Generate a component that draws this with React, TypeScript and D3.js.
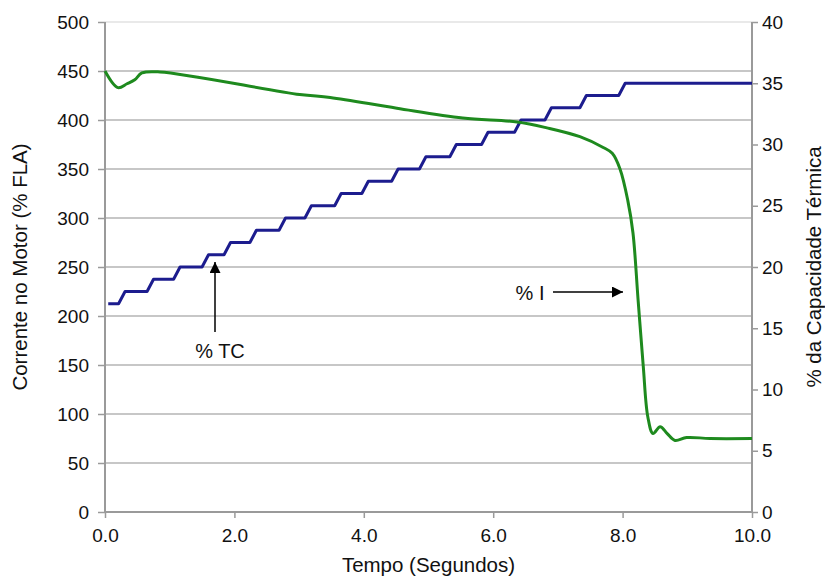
import React, { useRef, useEffect } from "react";
import * as d3 from "d3";

// % I (corrente, eixo esquerdo)
const currentTimes = [0.0, 0.2, 0.34, 0.46, 0.57, 0.85, 3.01, 3.48, 4.51, 5.53, 6.37, 6.83, 7.34, 7.7, 7.84, 7.96, 8.08, 8.16, 8.24, 8.32, 8.39, 8.47, 8.58, 8.69, 8.81, 8.99, 9.35, 10.0];
const currentValues = [450, 433, 437, 441, 448, 449, 426, 423, 412, 402, 398, 392, 383, 372, 366, 350, 318, 285, 216, 148, 97, 80, 87, 80, 73, 76, 75, 75];

// % TC (capacidade térmica, eixo direito) - degraus
const tcStepTimes = [0.05, 0.26, 0.7, 1.11, 1.55, 1.89, 2.29, 2.74, 3.14, 3.6, 4.02, 4.48, 4.91, 5.38, 5.87, 6.38, 6.85, 7.39, 7.99];
const tcLevels = [17, 18, 19, 20, 21, 22, 23, 24, 25, 26, 27, 28, 29, 30, 31, 32, 33, 34, 35];

const xTicks = [0, 2, 4, 6, 8, 10];
const leftTicks = [0, 50, 100, 150, 200, 250, 300, 350, 400, 450, 500];
const rightTicks = [0, 5, 10, 15, 20, 25, 30, 35, 40];

const width = 825;
const height = 577;
const margin = { top: 22, right: 73, bottom: 65, left: 105 };

const App = () => {
  const svgRef = useRef(null);

  useEffect(() => {
    const svg = d3.select(svgRef.current);
    svg.selectAll("*").remove();

    const x = d3.scaleLinear().domain([0, 10]).range([margin.left, width - margin.right]);
    const yLeft = d3.scaleLinear().domain([0, 500]).range([height - margin.bottom, margin.top]);
    const yRight = d3.scaleLinear().domain([0, 40]).range([height - margin.bottom, margin.top]);

    const font = "'Liberation Sans', Arial, sans-serif";
    const tickSize = "19px";
    const titleSize = "20.5px";
    const noteSize = "20px";

    // gridlines
    svg
      .append("g")
      .selectAll("line")
      .data(leftTicks.filter((d) => d > 0))
      .join("line")
      .attr("x1", x(0))
      .attr("x2", x(10))
      .attr("y1", (d) => yLeft(d))
      .attr("y2", (d) => yLeft(d))
      .attr("stroke", (d) => (d === 500 ? "#e2e2e2" : "#b4b4b4"))
      .attr("stroke-width", 1.6);

    // axes
    const xAxis = svg
      .append("g")
      .attr("transform", `translate(0,${yLeft(0)})`)
      .call(d3.axisBottom(x).tickValues(xTicks).tickFormat(d3.format(".1f")).tickSize(6).tickPadding(11));
    const leftAxis = svg
      .append("g")
      .attr("transform", `translate(${x(0)},0)`)
      .call(d3.axisLeft(yLeft).tickValues(leftTicks).tickSize(7).tickPadding(9));
    const rightAxis = svg
      .append("g")
      .attr("transform", `translate(${x(10)},0)`)
      .call(d3.axisRight(yRight).tickValues(rightTicks).tickSize(6).tickPadding(4));

    [xAxis, leftAxis, rightAxis].forEach((g) => {
      g.select(".domain").attr("stroke", "#9a9a9a").attr("stroke-width", 2);
      g.selectAll(".tick line").attr("stroke", "#9a9a9a").attr("stroke-width", 1.5);
      g.selectAll("text").attr("fill", "#111").style("font-family", font).style("font-size", tickSize);
    });
    xAxis.select(".domain").attr("d", `M${x(0)},0H${x(10)}`);
    leftAxis.select(".domain").attr("d", `M0,${yLeft(500)}V${yLeft(0)}`);
    rightAxis.select(".domain").attr("d", `M0,${yRight(40)}V${yRight(0)}`);

    // % TC step line
    const tcPoints = [[tcStepTimes[0], tcLevels[0]]];
    for (let i = 1; i < tcStepTimes.length; i++) {
      tcPoints.push([tcStepTimes[i] - 0.05, tcLevels[i - 1]]);
      tcPoints.push([tcStepTimes[i] + 0.05, tcLevels[i]]);
    }
    tcPoints.push([10, tcLevels[tcLevels.length - 1]]);

    const tcLine = d3
      .line()
      .x((d) => x(d[0]))
      .y((d) => yRight(d[1]));

    svg
      .append("path")
      .attr("d", tcLine(tcPoints))
      .attr("fill", "none")
      .attr("stroke", "#1c1c8e")
      .attr("stroke-width", 3)
      .attr("stroke-linejoin", "round");

    // % I line
    const iLine = d3
      .line()
      .x((d, i) => x(currentTimes[i]))
      .y((d) => yLeft(d))
      .curve(d3.curveCatmullRom.alpha(0.5));

    svg
      .append("path")
      .attr("d", iLine(currentValues))
      .attr("fill", "none")
      .attr("stroke", "#1e8a1e")
      .attr("stroke-width", 3)
      .attr("stroke-linejoin", "round");

    // arrow marker
    svg
      .append("defs")
      .append("marker")
      .attr("id", "arrow")
      .attr("viewBox", "0 0 10 10")
      .attr("refX", 10)
      .attr("refY", 5)
      .attr("markerWidth", 13)
      .attr("markerHeight", 11)
      .attr("markerUnits", "userSpaceOnUse")
      .attr("orient", "auto")
      .append("path")
      .attr("d", "M0,0L10,5L0,10Z")
      .attr("fill", "#000");

    // % TC annotation
    svg
      .append("line")
      .attr("x1", 215)
      .attr("x2", 215)
      .attr("y1", 332)
      .attr("y2", 262)
      .attr("stroke", "#000")
      .attr("stroke-width", 1.5)
      .attr("marker-end", "url(#arrow)");
    svg
      .append("text")
      .attr("x", 220)
      .attr("y", 358)
      .attr("text-anchor", "middle")
      .style("font-family", font)
      .style("font-size", noteSize)
      .attr("fill", "#111")
      .text("% TC");

    // % I annotation
    svg
      .append("line")
      .attr("x1", 553)
      .attr("x2", 623)
      .attr("y1", 292)
      .attr("y2", 292)
      .attr("stroke", "#000")
      .attr("stroke-width", 1.5)
      .attr("marker-end", "url(#arrow)");
    svg
      .append("text")
      .attr("x", 530)
      .attr("y", 300)
      .attr("text-anchor", "middle")
      .style("font-family", font)
      .style("font-size", noteSize)
      .attr("fill", "#111")
      .text("% I");

    // axis titles
    svg
      .append("text")
      .attr("x", (x(0) + x(10)) / 2)
      .attr("y", 572)
      .attr("text-anchor", "middle")
      .style("font-family", font)
      .style("font-size", titleSize)
      .attr("fill", "#111")
      .text("Tempo (Segundos)");

    svg
      .append("text")
      .attr("transform", `translate(27,${(yLeft(0) + yLeft(500)) / 2}) rotate(-90)`)
      .attr("text-anchor", "middle")
      .style("font-family", font)
      .style("font-size", titleSize)
      .attr("fill", "#111")
      .text("Corrente no Motor (% FLA)");

    svg
      .append("text")
      .attr("transform", `translate(821,${(yLeft(0) + yLeft(500)) / 2}) rotate(-90)`)
      .attr("text-anchor", "middle")
      .style("font-family", font)
      .style("font-size", titleSize)
      .attr("fill", "#111")
      .text("% da Capacidade Térmica");
  }, []);

  return (
    <svg
      ref={svgRef}
      width={width}
      height={height}
      style={{ position: "absolute", left: 0, top: 0, background: "#fff" }}
    />
  );
};

export default App;
